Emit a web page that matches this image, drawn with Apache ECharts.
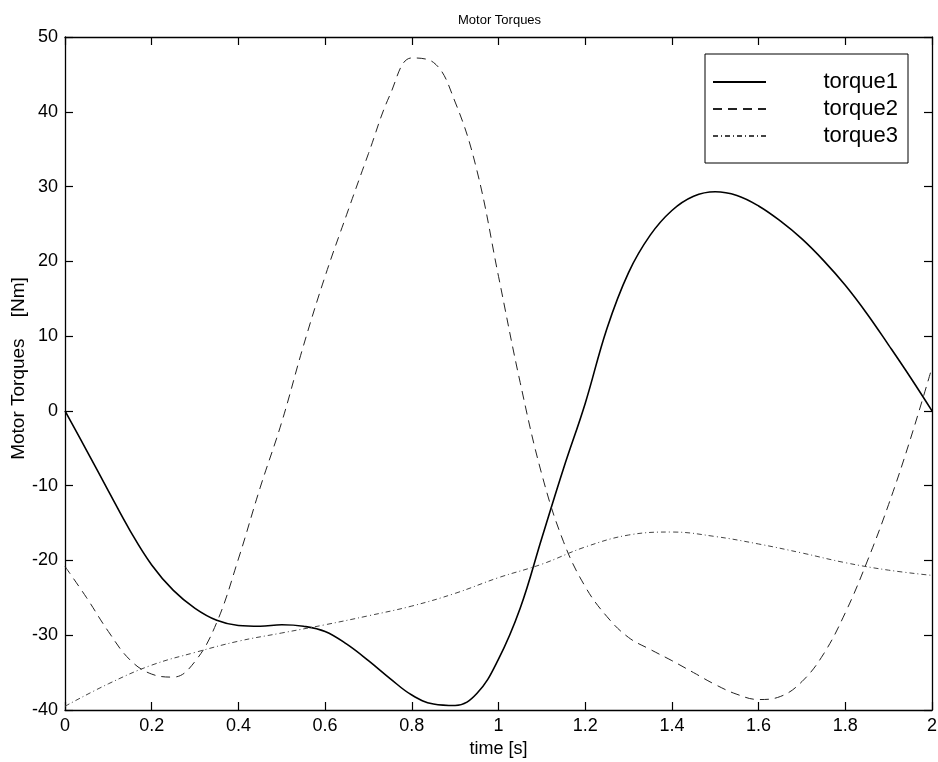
<!DOCTYPE html>
<html>
<head>
<meta charset="utf-8">
<script src="https://cdn.jsdelivr.net/npm/echarts@6/dist/echarts.min.js"></script>
<style>html,body{margin:0;padding:0;background:#fff}#c{width:938px;height:762px}</style>
</head>
<body>
<div id="c"></div>
<script>
var timeFine = [0,0.05,0.1,0.15,0.2,0.25,0.3,0.35,0.4,0.45,0.5,0.55,0.6,0.65,0.7,0.75,0.8,0.85,0.9,0.95,1.0,1.05,1.1,1.15,1.2,1.25,1.3,1.35,1.4,1.45,1.5,1.55,1.6,1.65,1.7,1.75,1.8,1.85,1.9,1.95,2.0];
var timeCoarse = [0,0.1,0.2,0.3,0.4,0.5,0.6,0.7,0.8,0.9,1.0,1.1,1.2,1.3,1.4,1.5,1.6,1.7,1.8,1.9,2.0];
var torque1 = [0,-5.3,-10.7,-16,-20.6,-24,-26.4,-28,-28.7,-28.8,-28.6,-28.8,-29.5,-31.2,-33.4,-35.8,-38,-39.2,-39.4,-37.8,-33.2,-26.4,-17,-7.7,1,11,18.5,23.5,26.8,28.7,29.3,28.8,27.4,25.4,23,20.1,16.8,13,8.8,4.5,0];
var torque2 = [-20.8,-25,-29.5,-33.3,-35.2,-35.6,-33.5,-28.3,-19.8,-10.3,-1.5,8.7,18,26.3,34.4,42.3,47.2,46.6,41.3,32.2,18,3.8,-8.5,-17.5,-23.5,-27.5,-30.3,-31.9,-33.4,-35,-36.6,-37.9,-38.6,-38.2,-36.2,-32.5,-27,-20.2,-12.5,-3.8,5.8];
var torque3 = [-39.5,-36.5,-34,-32.3,-30.8,-29.7,-28.6,-27.4,-26.1,-24.4,-22.3,-20.5,-18.2,-16.6,-16.2,-16.8,-17.8,-19,-20.3,-21.3,-22];
var seriesNames = ['torque1','torque2','torque3'];
var xTicks = {min:0, max:2, interval:0.2};
var yTicks = {min:-40, max:50, interval:10};

function pairs(xs, ys){ return xs.map(function(x,i){ return [x, ys[i]]; }); }

var FONT = 'Liberation Sans';
var chart = echarts.init(document.getElementById('c'), null, {renderer:'canvas'});
function axisCommon(){
  return {
    axisLine:{show:true, onZero:false, lineStyle:{color:'#000', width:1.3}},
    axisTick:{show:true, inside:true, length:8, lineStyle:{color:'#000', width:1.2}},
    splitLine:{show:false}
  };
}
chart.setOption({
  animation:false,
  backgroundColor:'#fff',
  title:{text:'Motor Torques', left:453, top:9, textStyle:{fontFamily:FONT, fontSize:13, fontWeight:'normal', color:'#000'}},
  grid:{left:65, right:6, top:37, bottom:52, containLabel:false, outerBoundsMode:'none'},
  legend:{
    orient:'vertical', left:705, top:54,
    padding:[17,10,16,7], itemGap:5, itemWidth:53, itemHeight:14,
    borderColor:'#000', borderWidth:1, backgroundColor:'#fff',
    data:seriesNames,
    itemStyle:{opacity:0},
    formatter:function(n){ return '{a|'+n+'}'; },
    textStyle:{rich:{a:{fontFamily:FONT, fontSize:22, color:'#000', width:127, align:'right', lineHeight:22}}}
  },
  xAxis:[
    Object.assign({type:'value', position:'bottom', min:xTicks.min, max:xTicks.max, interval:xTicks.interval,
      name:'time [s]', nameLocation:'middle', nameGap:30, nameMoveOverlap:false,
      nameTextStyle:{fontFamily:FONT, fontSize:18, color:'#000'},
      axisLabel:{fontFamily:FONT, fontSize:18, color:'#000', margin:7}}, axisCommon()),
    Object.assign({type:'value', position:'top', min:xTicks.min, max:xTicks.max, interval:xTicks.interval,
      axisLabel:{show:false}}, axisCommon())
  ],
  yAxis:[
    Object.assign({type:'value', position:'left', min:yTicks.min, max:yTicks.max, interval:yTicks.interval,
      name:'Motor Torques    [Nm]', nameLocation:'middle', nameGap:37, nameRotate:90, nameMoveOverlap:false,
      nameTextStyle:{fontFamily:FONT, fontSize:19, color:'#000', padding:[0,0,0,10]},
      axisLabel:{fontFamily:FONT, fontSize:18, color:'#000', margin:7}}, axisCommon()),
    Object.assign({type:'value', position:'right', min:yTicks.min, max:yTicks.max, interval:yTicks.interval,
      axisLabel:{show:false}}, axisCommon())
  ],
  series:[
    {name:seriesNames[0], type:'line', xAxisIndex:0, yAxisIndex:0, data:pairs(timeFine, torque1), smooth:0.4, showSymbol:false, symbol:'none',
      lineStyle:{color:'#000', width:1.6, type:'solid'}, itemStyle:{color:'#000'}},
    {name:seriesNames[1], type:'line', xAxisIndex:0, yAxisIndex:0, data:pairs(timeFine, torque2), smooth:0.4, showSymbol:false, symbol:'none',
      lineStyle:{color:'#222', width:1, type:[9,6]}, itemStyle:{color:'#222'}},
    {name:seriesNames[2], type:'line', xAxisIndex:0, yAxisIndex:0, data:pairs(timeCoarse, torque3), smooth:0.4, showSymbol:false, symbol:'none',
      lineStyle:{color:'#444', width:1, type:[5,3,1,3]}, itemStyle:{color:'#444'}}
  ]
});
</script>
</body>
</html>
